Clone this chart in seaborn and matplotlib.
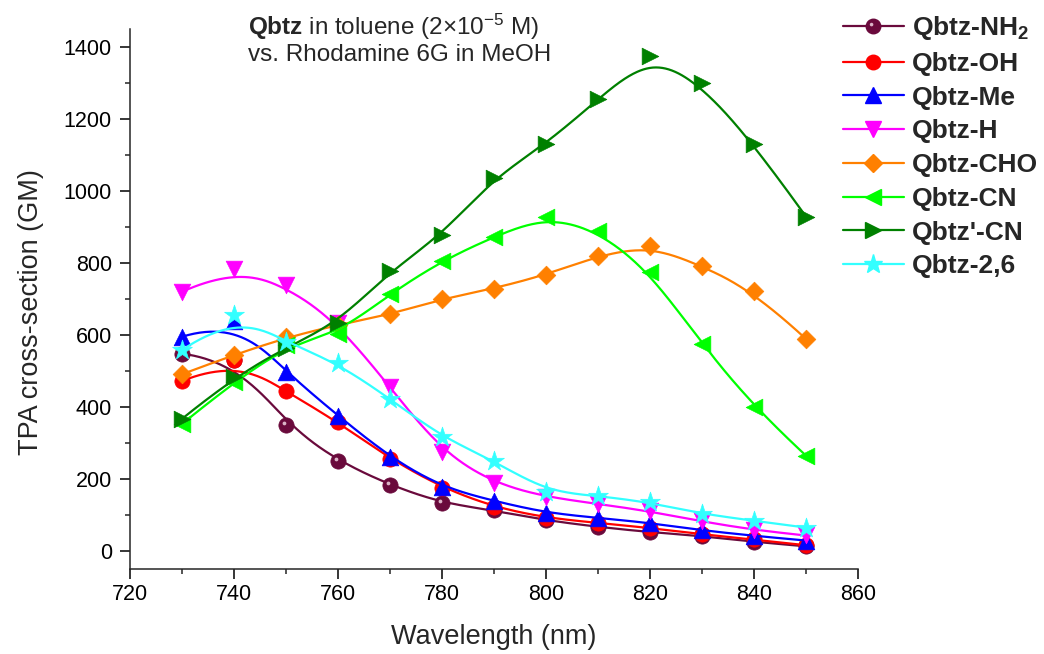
import numpy as np
import matplotlib
matplotlib.use("Agg")
import matplotlib.pyplot as plt
import seaborn as sns
from matplotlib.lines import Line2D
from matplotlib.path import Path
from matplotlib.legend_handler import HandlerTuple
from matplotlib.ticker import MultipleLocator

# ---------------- data ----------------
wavelength = [730, 740, 750, 760, 770, 780, 790, 800, 810, 820, 830, 840, 850]
qbtz_nh2 = [548, 530, 351, 250, 183, 133, 113, 85, 67, 52, 42, 25, 13]
qbtz_oh = [472, 530, 444, 358, 256, 176, 122, 92, 78, 64, 46, 32, 16]
qbtz_me = [595, 640, 497, 376, 260, 177, 139, 106, 92, 78, 57, 42, 29]
qbtz_h = [720, 784, 739, 632, 455, 275, 188, 150, 131, 110, 82, 58, 43]
qbtz_cho = [491, 545, 593, 628, 657, 700, 729, 767, 820, 848, 792, 722, 589]
qbtz_cn = [353, 469, 572, 604, 714, 806, 873, 929, 890, 775, 574, 399, 265]
qbtzp_cn = [367, 483, 565, 634, 777, 878, 1037, 1130, 1255, 1374, 1300, 1130, 929]
qbtz_26 = [558, 655, 581, 521, 423, 316, 251, 165, 153, 135, 102, 84, 65]

labels = [r"Qbtz-NH$_\mathbf{2}$", "Qbtz-OH", "Qbtz-Me", "Qbtz-H",
          "Qbtz-CHO", "Qbtz-CN", "Qbtz'-CN", "Qbtz-2,6"]
series = [qbtz_nh2, qbtz_oh, qbtz_me, qbtz_h, qbtz_cho, qbtz_cn, qbtzp_cn, qbtz_26]
colors = ["#6a0a3c", "#ff0000", "#0000ff", "#ff00ff", "#ff8000", "#00ff00", "#008000", "#33ffff"]
markers = ["o", "o", "^", "v", "D", "<", ">", "*"]
msizes = [11, 11, 12, 12, 9.5, 12, 12, 15]

x_ticks = [720, 740, 760, 780, 800, 820, 840, 860]
y_ticks = [0, 200, 400, 600, 800, 1000, 1200, 1400]

# ---------------- style ----------------
sns.set_style("ticks")
plt.rcParams["font.family"] = ["Liberation Sans", "DejaVu Sans"]
plt.rcParams["mathtext.fontset"] = "custom"
plt.rcParams["mathtext.rm"] = "Liberation Sans"
plt.rcParams["mathtext.it"] = "Liberation Sans:italic"
plt.rcParams["mathtext.bf"] = "Liberation Sans:bold"
plt.rcParams["axes.linewidth"] = 1.1


def bspline(xs, ys, k=3, n=500):
    """Clamped uniform cubic B-spline using the data points as control points."""
    P = np.column_stack([xs, ys]).astype(float)
    m = len(P)
    knots = np.concatenate([np.zeros(k), np.linspace(0, 1, m - k + 1), np.ones(k)])
    t = np.linspace(0, 1, n)
    t[-1] -= 1e-9
    N = np.zeros((n, len(knots) - 1))
    for i in range(len(knots) - 1):
        N[:, i] = (knots[i] <= t) & (t < knots[i + 1])
    for d in range(1, k + 1):
        Nn = np.zeros((n, len(knots) - 1 - d))
        for i in range(len(knots) - 1 - d):
            a = 0.0
            b = 0.0
            den1 = knots[i + d] - knots[i]
            if den1 > 0:
                a = (t - knots[i]) / den1 * N[:, i]
            den2 = knots[i + d + 1] - knots[i + 1]
            if den2 > 0:
                b = (knots[i + d + 1] - t) / den2 * N[:, i + 1]
            Nn[:, i] = a + b
        N = Nn
    C = N @ P
    return C[:, 0], C[:, 1]


# highlight marker for the "sphere" symbol
circ = Path.circle(center=(-0.28, 0.28), radius=0.26)
hl_path = Path(np.vstack([circ.vertices, [[1, 1], [-1, -1]]]),
               np.concatenate([circ.codes, [Path.MOVETO, Path.MOVETO]]))

fig = plt.figure(figsize=(10.44, 6.54), dpi=100)
ax = fig.add_axes([0.1245, 0.130, 0.6973, 0.8257])

handles = []
for i, (ys, lab, c, mk, ms) in enumerate(zip(series, labels, colors, markers, msizes)):
    cx, cy = bspline(wavelength, ys)
    sns.lineplot(x=cx, y=cy, ax=ax, color=c, linewidth=1.6, sort=False,
                 estimator=None, legend=False, zorder=2 + i * 0.1)
    sns.scatterplot(x=wavelength, y=ys, ax=ax, color=c, marker=mk, s=(ms * 1.0) ** 2,
                    edgecolor=c, linewidth=0.5, legend=False, zorder=2.05 + i * 0.1)
    h = Line2D([], [], color=c, lw=1.6, marker=mk, markersize=ms * 0.95,
               markerfacecolor=c, markeredgecolor=c)
    if i == 0:
        ax.plot(wavelength, ys, linestyle="none", marker=hl_path, markersize=ms * 0.95,
                markerfacecolor="#e8c8d8", markeredgewidth=0, alpha=0.9,
                zorder=2.07 + i * 0.1)
        h2 = Line2D([], [], linestyle="none", marker=hl_path, markersize=ms * 0.9,
                    markerfacecolor="#e8c8d8", markeredgewidth=0, alpha=0.9)
        handles.append((h, h2))
    else:
        handles.append(h)

ax.set_xlim(720, 860)
ax.set_ylim(-50, 1450)
ax.set_xticks(x_ticks)
ax.set_yticks(y_ticks)
ax.xaxis.set_minor_locator(MultipleLocator(10))
ax.yaxis.set_minor_locator(MultipleLocator(100))
ax.tick_params(axis="both", which="major", length=7.5, width=1.1, labelsize=15.5,
               direction="out", color="black", labelcolor="black")
ax.tick_params(axis="both", which="minor", length=3.8, width=1.1, direction="out")
ax.tick_params(axis="x", which="major", pad=3.5)
ax.tick_params(axis="y", which="major", pad=5.5)
sns.despine(ax=ax)

ax.set_xlabel("Wavelength (nm)", fontsize=19.5)
ax.set_ylabel("TPA cross-section (GM)", fontsize=19.5)
ax.xaxis.set_label_coords(0.5, -0.102)
ax.yaxis.set_label_coords(-0.118, 0.475)

fig.text(248 / 1044, 1 - 27 / 654, r"$\mathbf{Qbtz}$ in toluene (2×10$^{-5}$ M)",
         fontsize=17.5, ha="left", va="center")
fig.text(248 / 1044, 1 - 55 / 654, "vs. Rhodamine 6G in MeOH",
         fontsize=17.5, ha="left", va="center")

fig.legend(handles, labels, loc="upper left", bbox_to_anchor=(843 / 1044, 1 - 14 / 654),
           frameon=False, prop={"weight": "bold", "size": 19}, handlelength=2.3,
           handletextpad=0.3, labelspacing=0.37, borderpad=0, borderaxespad=0,
           handler_map={tuple: HandlerTuple(ndivide=1)})

fig.savefig("out.png", dpi=100)
